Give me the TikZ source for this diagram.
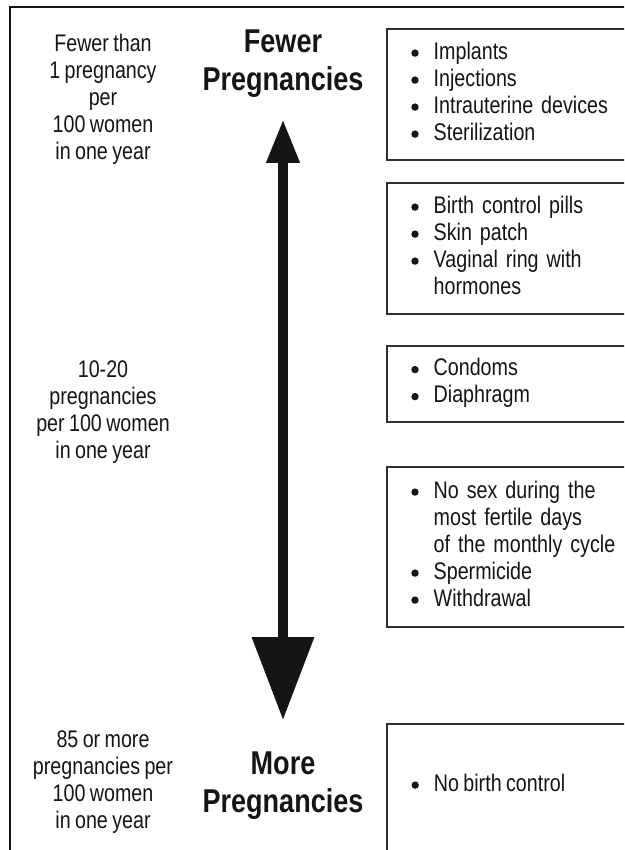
\documentclass[tikz,border=0pt]{standalone}
\usepackage{fontspec}
\setmainfont{Liberation Sans}[FakeStretch=0.82,WordSpace=0.8]
\usetikzlibrary{arrows.meta}
\definecolor{ink}{HTML}{151515}
\definecolor{boxline}{HTML}{303030}
\newcommand\bul{\tikz[baseline=0pt]\fill[ink] (0,6.3pt) circle (3.7pt);}
\newcommand\itemtab[1]{\begin{tabular}{@{}l@{\hspace{15pt}}l@{}}#1\end{tabular}}
\begin{document}
\begin{tikzpicture}[x=1pt,y=-1pt,
  body/.style={font=\fontsize{24pt}{27pt}\selectfont, text=ink, inner sep=0pt},
  side/.style={body, align=center},
  heading/.style={font=\fontsize{33pt}{38pt}\selectfont\bfseries, text=ink, align=center, inner sep=0pt},
  listbox/.style={body, draw=boxline, line width=2.2pt, anchor=north west, outer sep=0pt,
    minimum width=260pt, inner xsep=24.3pt, inner ysep=0pt, text width=211.4pt, align=left},
  frame/.style={draw=ink, line width=2.6pt}]
\useasboundingbox (0,0) rectangle (624,850);
\fill[white] (0,0) rectangle (624,850);
\clip (0,0) rectangle (624,850);
% outer frame
\draw[frame] (10,870) -- (10,7) -- (660,7);
% left column
\node[side] (lt1) at (103,99) {Fewer than\\1 pregnancy\\per\\100 women\\in one year};
\node[side] (lt2) at (103,412) {10-20\\pregnancies\\per 100 women\\in one year};
\node[side] (lt3) at (103,782) {85 or more\\pregnancies per\\100 women\\in one year};
% headings
\node[heading] (hf) at (283,64) {Fewer\\Pregnancies};
\node[heading] (hm) at (283,786) {More\\Pregnancies};
% arrow
\coordinate (atop) at (283,119);
\coordinate (abot) at (283,720);
\draw[ink, line width=10pt, {Triangle[width=31pt,length=44pt]}-{Triangle[width=60pt,length=83pt]}] (atop) -- (abot);
% boxes
\node[listbox, minimum height=131pt] (b1) at (387,29) {\itemtab{\bul & Implants\\ \bul & Injections\\ \bul & Intrauterine devices\\ \bul & Sterilization}};
\node[listbox, minimum height=131pt] (b2) at (387,183) {\itemtab{\bul & Birth control pills\\ \bul & Skin patch\\ \bul & Vaginal ring with\\ & hormones}};
\node[listbox, minimum height=76pt] (b3) at (387,346) {\itemtab{\bul & Condoms\\ \bul & Diaphragm}};
\node[listbox, minimum height=160pt] (b4) at (387,467) {\itemtab{\bul & No sex during the\\ & most fertile days\\ & of the monthly cycle\\ \bul & Spermicide\\ \bul & Withdrawal}};
\node[listbox, minimum height=160pt] (b5) at (387,724) {};
\node[body, anchor=west] (t5) at (411.3,786) {\itemtab{\bul & No birth control}};
\end{tikzpicture}
\end{document}
